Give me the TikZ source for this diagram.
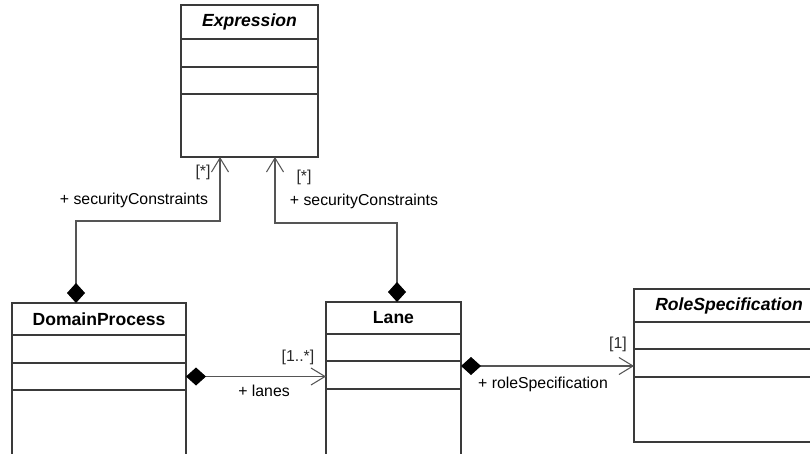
\documentclass[tikz,border=0pt]{standalone}
\usepackage{fontspec}
\setmainfont{Liberation Sans}
\usepackage{tikz}
\usetikzlibrary{arrows.meta, positioning, calc}
\usepackage{xcolor}
\definecolor{umlline}{HTML}{555555}
\definecolor{umlbox}{HTML}{3a3a3a}
\definecolor{multtext}{HTML}{2a2a2a}
\tikzset{
  classhead/.style={rectangle, draw=umlbox, fill=white, line width=0.6pt,
                    outer sep=0pt, inner sep=0pt, align=center,
                    font=\fontsize{10}{12}\selectfont\bfseries},
  classpart/.style={rectangle, draw=umlbox, fill=white, line width=0.6pt,
                    outer sep=0pt, inner sep=0pt},
  compose/.style={line width=0.6pt, draw=umlline,
                  {Diamond[length=0.40cm,width=0.36cm,fill=black,color=black]}-{Straight Barb[length=0.28cm,width=0.34cm]}},
  rolelabel/.style={font=\fontsize{9}{11}\selectfont, inner sep=1pt},
  multlabel/.style={font=\fontsize{9}{11}\selectfont, text=multtext, inner sep=1pt},
}

\begin{document}
\begin{tikzpicture}
  \useasboundingbox (0,0) rectangle (16.2,9.06);
  \clip (0,0) rectangle (16.2,9.06);

  % --- Expression (abstract) ---
  \node[classhead, minimum width=2.74cm, minimum height=0.68cm, anchor=north west]
    (expr) at (3.62,8.96) {\textit{Expression}};
  \node[classpart, minimum width=2.74cm, minimum height=0.56cm, below=0pt of expr] (expr1) {};
  \node[classpart, minimum width=2.74cm, minimum height=0.54cm, below=0pt of expr1] (expr2) {};
  \node[classpart, minimum width=2.74cm, minimum height=1.26cm, below=0pt of expr2] (expr3) {};

  % --- DomainProcess ---
  \node[classhead, minimum width=3.48cm, minimum height=0.64cm, anchor=north west]
    (dp) at (0.24,3.00) {DomainProcess};
  \node[classpart, minimum width=3.48cm, minimum height=0.56cm, below=0pt of dp] (dp1) {};
  \node[classpart, minimum width=3.48cm, minimum height=0.54cm, below=0pt of dp1] (dp2) {};
  \node[classpart, minimum width=3.48cm, minimum height=1.60cm, below=0pt of dp2] (dp3) {};

  % --- Lane ---
  \node[classhead, minimum width=2.70cm, minimum height=0.64cm, anchor=north west]
    (lane) at (6.52,3.02) {Lane};
  \node[classpart, minimum width=2.70cm, minimum height=0.54cm, below=0pt of lane] (lane1) {};
  \node[classpart, minimum width=2.70cm, minimum height=0.56cm, below=0pt of lane1] (lane2) {};
  \node[classpart, minimum width=2.70cm, minimum height=1.60cm, below=0pt of lane2] (lane3) {};

  % --- RoleSpecification (abstract) ---
  \node[classhead, minimum width=3.80cm, minimum height=0.66cm, anchor=north west]
    (role) at (12.68,3.28) {\textit{RoleSpecification}};
  \node[classpart, minimum width=3.80cm, minimum height=0.54cm, below=0pt of role] (role1) {};
  \node[classpart, minimum width=3.80cm, minimum height=0.56cm, below=0pt of role1] (role2) {};
  \node[classpart, minimum width=3.80cm, minimum height=1.30cm, below=0pt of role2] (role3) {};

  % Compositions
  \draw[compose] ([xshift=1.28cm]dp.north west) -- ++(0,1.64)
    -| ([xshift=0.78cm]expr3.south west);
  \draw[compose] ([xshift=1.42cm]lane.north west) -- ++(0,1.58)
    -| ([xshift=1.88cm]expr3.south west);
  \draw[compose] (dp2.east) -- (dp2.east -| lane2.west);
  \draw[compose] ([yshift=0.18cm]lane2.east) -- ([yshift=0.18cm]lane2.east -| role2.west);

  % Role names and multiplicities
  \node[multlabel] (m1) at (4.06,5.62) {[*]};
  \node[rolelabel] (r1) at (2.68,5.06) {+ securityConstraints};
  \node[multlabel] (m2) at (6.08,5.52) {[*]};
  \node[rolelabel] (r2) at (7.28,5.04) {+ securityConstraints};
  \node[multlabel] (m3) at (5.96,1.92) {[1..*]};
  \node[rolelabel] (r3) at (5.28,1.24) {+ lanes};
  \node[multlabel] (m4) at (12.36,2.18) {[1]};
  \node[rolelabel] (r4) at (10.86,1.38) {+ roleSpecification};
\end{tikzpicture}
\end{document}
